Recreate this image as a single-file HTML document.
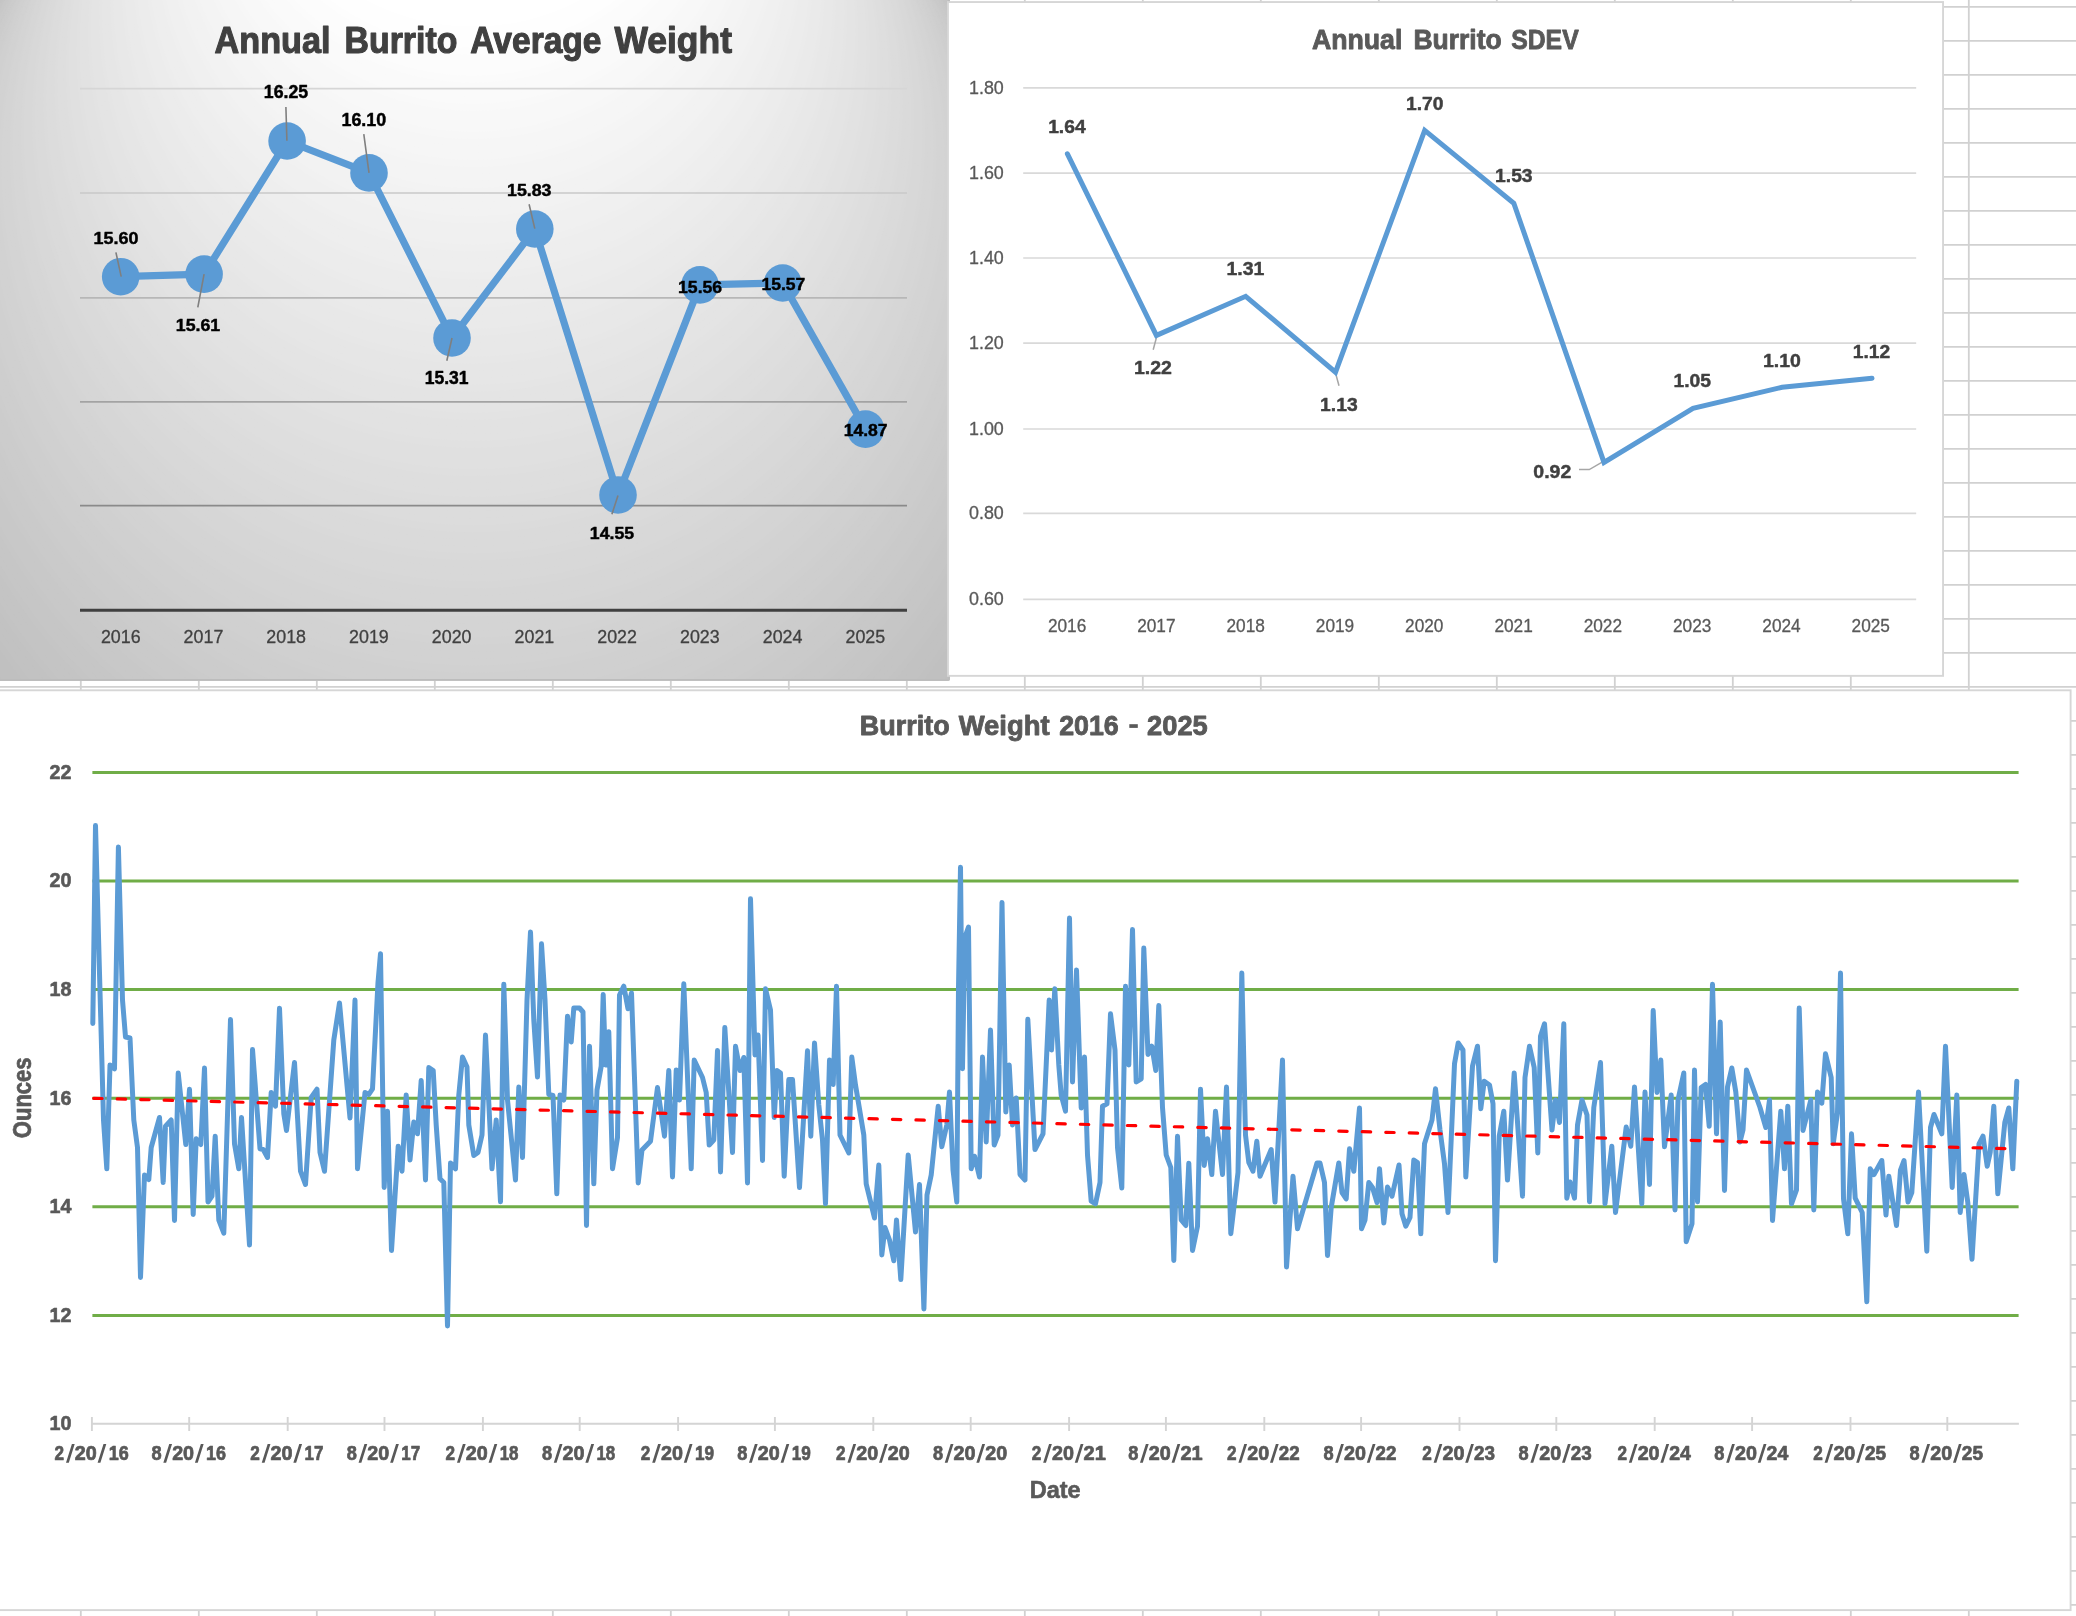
<!DOCTYPE html>
<html><head><meta charset="utf-8"><title>Burrito charts</title>
<style>html,body{margin:0;padding:0;background:#fff;overflow:hidden}svg{display:block}text{font-family:"Liberation Sans",sans-serif}</style></head>
<body>
<svg width="2076" height="1616" viewBox="0 0 2076 1616" font-family="Liberation Sans, sans-serif" style="will-change:transform">
<rect width="2076" height="1616" fill="#fff"/>
<path d="M80.8 0V1616M198.8 0V1616M316.8 0V1616M434.8 0V1616M552.8 0V1616M670.8 0V1616M788.8 0V1616M906.8 0V1616M1024.8 0V1616M1142.8 0V1616M1260.8 0V1616M1378.8 0V1616M1496.8 0V1616M1614.8 0V1616M1732.8 0V1616M1850.8 0V1616M1968.8 0V1616M2086.8 0V1616M0 6.9H2076M0 40.9H2076M0 74.9H2076M0 108.9H2076M0 142.9H2076M0 176.9H2076M0 210.9H2076M0 244.9H2076M0 278.9H2076M0 312.9H2076M0 346.9H2076M0 380.9H2076M0 414.9H2076M0 448.9H2076M0 482.9H2076M0 516.9H2076M0 550.9H2076M0 584.9H2076M0 618.9H2076M0 652.9H2076M0 686.9H2076M0 720.9H2076M0 754.9H2076M0 788.9H2076M0 822.9H2076M0 856.9H2076M0 890.9H2076M0 924.9H2076M0 958.9H2076M0 992.9H2076M0 1026.9H2076M0 1060.9H2076M0 1094.9H2076M0 1128.9H2076M0 1162.9H2076M0 1196.9H2076M0 1230.9H2076M0 1264.9H2076M0 1298.9H2076M0 1332.9H2076M0 1366.9H2076M0 1400.9H2076M0 1434.9H2076M0 1468.9H2076M0 1502.9H2076M0 1536.9H2076M0 1570.9H2076M0 1604.9H2076" stroke="#d1d1d1" stroke-width="1.8" fill="none"/>
<defs><clipPath id="c1"><rect x="-6" y="-6" width="955.8" height="686.65" rx="1.5"/></clipPath></defs>
<g clip-path="url(#c1)">
<rect x="-5" y="-5" width="960" height="690" fill="#bfbfbf"/>
<circle cx="473.1" cy="339.3" r="586.3" fill="rgb(191,191,191)"/>
<circle cx="473.1" cy="335.1" r="583.5" fill="rgb(192,192,192)"/>
<circle cx="473.1" cy="330.9" r="580.7" fill="rgb(192,192,192)"/>
<circle cx="473.1" cy="326.6" r="577.9" fill="rgb(192,192,192)"/>
<circle cx="473.1" cy="322.4" r="575.1" fill="rgb(193,193,193)"/>
<circle cx="473.1" cy="318.2" r="572.3" fill="rgb(194,194,194)"/>
<circle cx="473.1" cy="313.9" r="569.5" fill="rgb(194,194,194)"/>
<circle cx="473.1" cy="309.7" r="566.7" fill="rgb(194,194,194)"/>
<circle cx="473.1" cy="305.5" r="563.9" fill="rgb(195,195,195)"/>
<circle cx="473.1" cy="301.3" r="561.1" fill="rgb(196,196,196)"/>
<circle cx="473.1" cy="297.0" r="558.3" fill="rgb(196,196,196)"/>
<circle cx="473.1" cy="292.8" r="555.5" fill="rgb(196,196,196)"/>
<circle cx="473.1" cy="288.6" r="552.7" fill="rgb(197,197,197)"/>
<circle cx="473.1" cy="284.3" r="549.9" fill="rgb(198,198,198)"/>
<circle cx="473.1" cy="280.1" r="547.1" fill="rgb(198,198,198)"/>
<circle cx="473.1" cy="275.9" r="544.3" fill="rgb(198,198,198)"/>
<circle cx="473.1" cy="271.7" r="541.6" fill="rgb(199,199,199)"/>
<circle cx="473.1" cy="267.4" r="538.8" fill="rgb(200,200,200)"/>
<circle cx="473.1" cy="263.2" r="536.0" fill="rgb(200,200,200)"/>
<circle cx="473.1" cy="259.0" r="533.2" fill="rgb(200,200,200)"/>
<circle cx="473.1" cy="254.7" r="530.4" fill="rgb(201,201,201)"/>
<circle cx="473.1" cy="250.5" r="527.6" fill="rgb(202,202,202)"/>
<circle cx="473.1" cy="246.3" r="524.8" fill="rgb(202,202,202)"/>
<circle cx="473.1" cy="242.1" r="522.0" fill="rgb(202,202,202)"/>
<circle cx="473.1" cy="237.8" r="519.2" fill="rgb(203,203,203)"/>
<circle cx="473.1" cy="233.6" r="516.4" fill="rgb(204,204,204)"/>
<circle cx="473.1" cy="229.4" r="513.6" fill="rgb(204,204,204)"/>
<circle cx="473.1" cy="225.1" r="510.8" fill="rgb(204,204,204)"/>
<circle cx="473.1" cy="220.9" r="508.0" fill="rgb(205,205,205)"/>
<circle cx="473.1" cy="216.7" r="505.2" fill="rgb(206,206,206)"/>
<circle cx="473.1" cy="212.4" r="502.4" fill="rgb(206,206,206)"/>
<circle cx="473.1" cy="208.2" r="499.6" fill="rgb(206,206,206)"/>
<circle cx="473.1" cy="204.0" r="496.9" fill="rgb(207,207,207)"/>
<circle cx="473.1" cy="199.8" r="494.1" fill="rgb(208,208,208)"/>
<circle cx="473.1" cy="195.5" r="491.3" fill="rgb(208,208,208)"/>
<circle cx="473.1" cy="191.3" r="488.5" fill="rgb(208,208,208)"/>
<circle cx="473.1" cy="187.1" r="485.7" fill="rgb(209,209,209)"/>
<circle cx="473.1" cy="182.8" r="482.9" fill="rgb(210,210,210)"/>
<circle cx="473.1" cy="178.6" r="480.1" fill="rgb(210,210,210)"/>
<circle cx="473.1" cy="174.4" r="477.3" fill="rgb(210,210,210)"/>
<circle cx="473.1" cy="170.2" r="474.5" fill="rgb(211,211,211)"/>
<circle cx="473.1" cy="165.9" r="471.7" fill="rgb(212,212,212)"/>
<circle cx="473.1" cy="161.7" r="468.9" fill="rgb(212,212,212)"/>
<circle cx="473.1" cy="157.5" r="466.1" fill="rgb(212,212,212)"/>
<circle cx="473.1" cy="153.2" r="463.3" fill="rgb(213,213,213)"/>
<circle cx="473.1" cy="149.0" r="460.5" fill="rgb(214,214,214)"/>
<circle cx="473.1" cy="144.8" r="457.7" fill="rgb(214,214,214)"/>
<circle cx="473.1" cy="140.6" r="454.9" fill="rgb(214,214,214)"/>
<circle cx="473.1" cy="136.3" r="452.2" fill="rgb(215,215,215)"/>
<circle cx="473.1" cy="132.1" r="449.4" fill="rgb(216,216,216)"/>
<circle cx="473.1" cy="127.9" r="446.6" fill="rgb(216,216,216)"/>
<circle cx="473.1" cy="123.6" r="443.8" fill="rgb(216,216,216)"/>
<circle cx="473.1" cy="119.4" r="441.0" fill="rgb(217,217,217)"/>
<circle cx="473.1" cy="115.2" r="438.2" fill="rgb(218,218,218)"/>
<circle cx="473.1" cy="110.9" r="435.4" fill="rgb(218,218,218)"/>
<circle cx="473.1" cy="106.7" r="432.6" fill="rgb(218,218,218)"/>
<circle cx="473.1" cy="102.5" r="429.8" fill="rgb(219,219,219)"/>
<circle cx="473.1" cy="98.3" r="427.0" fill="rgb(220,220,220)"/>
<circle cx="473.1" cy="94.0" r="424.2" fill="rgb(220,220,220)"/>
<circle cx="473.1" cy="89.8" r="421.4" fill="rgb(220,220,220)"/>
<circle cx="473.1" cy="85.6" r="418.6" fill="rgb(221,221,221)"/>
<circle cx="473.1" cy="81.3" r="415.8" fill="rgb(222,222,222)"/>
<circle cx="473.1" cy="77.1" r="413.0" fill="rgb(222,222,222)"/>
<circle cx="473.1" cy="72.9" r="410.2" fill="rgb(222,222,222)"/>
<circle cx="473.1" cy="68.7" r="407.4" fill="rgb(223,223,223)"/>
<circle cx="473.1" cy="64.4" r="404.7" fill="rgb(224,224,224)"/>
<circle cx="473.1" cy="60.2" r="401.9" fill="rgb(224,224,224)"/>
<circle cx="473.1" cy="56.0" r="399.1" fill="rgb(224,224,224)"/>
<circle cx="473.1" cy="51.7" r="396.3" fill="rgb(225,225,225)"/>
<circle cx="473.1" cy="47.5" r="393.5" fill="rgb(226,226,226)"/>
<circle cx="473.1" cy="43.3" r="390.7" fill="rgb(226,226,226)"/>
<circle cx="473.1" cy="39.0" r="387.9" fill="rgb(226,226,226)"/>
<circle cx="473.1" cy="34.8" r="385.1" fill="rgb(227,227,227)"/>
<circle cx="473.1" cy="30.6" r="382.3" fill="rgb(228,228,228)"/>
<circle cx="473.1" cy="26.4" r="379.5" fill="rgb(228,228,228)"/>
<circle cx="473.1" cy="22.1" r="376.7" fill="rgb(228,228,228)"/>
<circle cx="473.1" cy="17.9" r="373.9" fill="rgb(229,229,229)"/>
<circle cx="473.1" cy="13.7" r="371.1" fill="rgb(230,230,230)"/>
<circle cx="473.1" cy="9.4" r="368.3" fill="rgb(230,230,230)"/>
<circle cx="473.1" cy="5.2" r="365.5" fill="rgb(230,230,230)"/>
<circle cx="473.1" cy="1.0" r="362.7" fill="rgb(231,231,231)"/>
<circle cx="473.1" cy="-3.2" r="360.0" fill="rgb(232,232,232)"/>
<circle cx="473.1" cy="-7.5" r="357.2" fill="rgb(232,232,232)"/>
<circle cx="473.1" cy="-11.7" r="354.4" fill="rgb(232,232,232)"/>
<circle cx="473.1" cy="-15.9" r="351.6" fill="rgb(233,233,233)"/>
<circle cx="473.1" cy="-20.2" r="348.8" fill="rgb(234,234,234)"/>
<circle cx="473.1" cy="-24.4" r="346.0" fill="rgb(234,234,234)"/>
<circle cx="473.1" cy="-28.6" r="343.2" fill="rgb(234,234,234)"/>
<circle cx="473.1" cy="-32.8" r="340.4" fill="rgb(235,235,235)"/>
<circle cx="473.1" cy="-37.1" r="337.6" fill="rgb(236,236,236)"/>
<circle cx="473.1" cy="-41.3" r="334.8" fill="rgb(236,236,236)"/>
<circle cx="473.1" cy="-45.5" r="332.0" fill="rgb(236,236,236)"/>
<circle cx="473.1" cy="-49.8" r="329.2" fill="rgb(237,237,237)"/>
<circle cx="473.1" cy="-54.0" r="326.4" fill="rgb(238,238,238)"/>
<circle cx="473.1" cy="-58.2" r="323.6" fill="rgb(238,238,238)"/>
<circle cx="473.1" cy="-62.5" r="320.8" fill="rgb(238,238,238)"/>
<circle cx="473.1" cy="-66.7" r="318.0" fill="rgb(239,239,239)"/>
<circle cx="473.1" cy="-70.9" r="315.3" fill="rgb(240,240,240)"/>
<circle cx="473.1" cy="-75.1" r="312.5" fill="rgb(240,240,240)"/>
<circle cx="473.1" cy="-79.4" r="309.7" fill="rgb(240,240,240)"/>
<circle cx="473.1" cy="-83.6" r="306.9" fill="rgb(241,241,241)"/>
<circle cx="473.1" cy="-87.8" r="304.1" fill="rgb(242,242,242)"/>
<circle cx="473.1" cy="-92.1" r="301.3" fill="rgb(242,242,242)"/>
<circle cx="473.1" cy="-96.3" r="298.5" fill="rgb(242,242,242)"/>
<circle cx="473.1" cy="-100.5" r="295.7" fill="rgb(243,243,243)"/>
<circle cx="473.1" cy="-104.7" r="292.9" fill="rgb(244,244,244)"/>
<circle cx="473.1" cy="-109.0" r="290.1" fill="rgb(244,244,244)"/>
<circle cx="473.1" cy="-113.2" r="287.3" fill="rgb(244,244,244)"/>
<circle cx="473.1" cy="-117.4" r="284.5" fill="rgb(245,245,245)"/>
<circle cx="473.1" cy="-121.7" r="281.7" fill="rgb(246,246,246)"/>
<circle cx="473.1" cy="-125.9" r="278.9" fill="rgb(246,246,246)"/>
<circle cx="473.1" cy="-130.1" r="276.1" fill="rgb(246,246,246)"/>
<circle cx="473.1" cy="-134.3" r="273.3" fill="rgb(247,247,247)"/>
<circle cx="473.1" cy="-138.6" r="270.5" fill="rgb(248,248,248)"/>
<circle cx="473.1" cy="-142.8" r="267.8" fill="rgb(248,248,248)"/>
<circle cx="473.1" cy="-147.0" r="265.0" fill="rgb(248,248,248)"/>
<circle cx="473.1" cy="-151.3" r="262.2" fill="rgb(249,249,249)"/>
<circle cx="473.1" cy="-155.5" r="259.4" fill="rgb(250,250,250)"/>
<circle cx="473.1" cy="-159.7" r="256.6" fill="rgb(250,250,250)"/>
<circle cx="473.1" cy="-164.0" r="253.8" fill="rgb(250,250,250)"/>
<circle cx="473.1" cy="-168.2" r="251.0" fill="rgb(251,251,251)"/>
<circle cx="473.1" cy="-172.4" r="248.2" fill="rgb(252,252,252)"/>
<circle cx="473.1" cy="-176.6" r="245.4" fill="rgb(252,252,252)"/>
<circle cx="473.1" cy="-180.9" r="242.6" fill="rgb(252,252,252)"/>
<circle cx="473.1" cy="-185.1" r="239.8" fill="rgb(253,253,253)"/>
<circle cx="473.1" cy="-189.3" r="237.0" fill="rgb(254,254,254)"/>
<circle cx="473.1" cy="-193.6" r="234.2" fill="rgb(254,254,254)"/>
<circle cx="473.1" cy="-197.8" r="231.4" fill="rgb(254,254,254)"/>
<circle cx="473.1" cy="-202.0" r="228.6" fill="rgb(255,255,255)"/>
</g>
<rect x="-6" y="-6" width="955" height="685.9" rx="1.5" fill="none" stroke="#bcbcbc" stroke-width="1.6"/>
<path d="M80 88.7H907" stroke="#d6d6d6" stroke-width="1.7"/>
<path d="M80 193.0H907" stroke="#c9c9c9" stroke-width="1.7"/>
<path d="M80 297.8H907" stroke="#b7b7b7" stroke-width="1.7"/>
<path d="M80 401.8H907" stroke="#a3a3a3" stroke-width="1.7"/>
<path d="M80 505.7H907" stroke="#8a8a8a" stroke-width="1.7"/>
<path d="M80 610.2H907" stroke="#404040" stroke-width="3"/>
<polyline points="120.7,276.7 204.1,274.1 287.1,141.0 369.0,172.9 452.0,338.0 534.8,229.0 618.0,495.0 700.0,284.9 782.7,283.0 865.5,429.1" fill="none" stroke="#5b9bd5" stroke-width="7.2" stroke-linejoin="round" stroke-linecap="round"/>
<circle cx="120.7" cy="276.7" r="18.8" fill="#5b9bd5"/>
<circle cx="204.1" cy="274.1" r="18.8" fill="#5b9bd5"/>
<circle cx="287.1" cy="141.0" r="18.8" fill="#5b9bd5"/>
<circle cx="369.0" cy="172.9" r="18.8" fill="#5b9bd5"/>
<circle cx="452.0" cy="338.0" r="18.8" fill="#5b9bd5"/>
<circle cx="534.8" cy="229.0" r="18.8" fill="#5b9bd5"/>
<circle cx="618.0" cy="495.0" r="18.8" fill="#5b9bd5"/>
<circle cx="700.0" cy="284.9" r="18.8" fill="#5b9bd5"/>
<circle cx="782.7" cy="283.0" r="18.8" fill="#5b9bd5"/>
<circle cx="865.5" cy="429.1" r="18.8" fill="#5b9bd5"/>
<path d="M115.9 252.3L121.2 276.6M204.1 274.1L197.8 307.4M285.9 106.9L286.9 140.7M363.8 134.1L369 172.9M529.1 204.2L534.8 228.6M452 338L446.8 360.7M618 495.4L611.9 514.2" stroke="#7f7f7f" stroke-width="1.6" fill="none"/>
<text transform="translate(214.51,52.87) scale(0.9364,1)" font-size="36.57" font-weight="bold" fill="#404040" stroke="#404040" stroke-width="1.1" stroke-linejoin="round">Annual</text>
<text transform="translate(344.61,52.87) scale(0.9255,1)" font-size="36.57" font-weight="bold" fill="#404040" stroke="#404040" stroke-width="1.1" stroke-linejoin="round">Burrito</text>
<text transform="translate(470.30,52.87) scale(0.9183,1)" font-size="36.57" font-weight="bold" fill="#404040" stroke="#404040" stroke-width="1.1" stroke-linejoin="round">Average</text>
<text transform="translate(614.52,52.87) scale(0.9690,1)" font-size="36.57" font-weight="bold" fill="#404040" stroke="#404040" stroke-width="1.1" stroke-linejoin="round">Weight</text>
<text transform="translate(93.44,243.67) scale(1.0430,1)" font-size="17.25" font-weight="bold" fill="#000" stroke="#000" stroke-width="0.45" stroke-linejoin="round">15.60</text>
<text transform="translate(175.84,330.67) scale(1.0465,1)" font-size="16.96" font-weight="bold" fill="#000" stroke="#000" stroke-width="0.45" stroke-linejoin="round">15.61</text>
<text transform="translate(263.84,97.56) scale(1.0124,1)" font-size="17.53" font-weight="bold" fill="#000" stroke="#000" stroke-width="0.45" stroke-linejoin="round">16.25</text>
<text transform="translate(341.44,125.66) scale(1.0215,1)" font-size="17.53" font-weight="bold" fill="#000" stroke="#000" stroke-width="0.45" stroke-linejoin="round">16.10</text>
<text transform="translate(507.04,195.87) scale(1.0292,1)" font-size="17.25" font-weight="bold" fill="#000" stroke="#000" stroke-width="0.45" stroke-linejoin="round">15.83</text>
<text transform="translate(424.74,383.76) scale(1.0011,1)" font-size="17.53" font-weight="bold" fill="#000" stroke="#000" stroke-width="0.45" stroke-linejoin="round">15.31</text>
<text transform="translate(589.84,538.66) scale(1.0246,1)" font-size="17.25" font-weight="bold" fill="#000" stroke="#000" stroke-width="0.45" stroke-linejoin="round">14.55</text>
<text transform="translate(678.04,292.76) scale(1.0139,1)" font-size="17.39" font-weight="bold" fill="#000" stroke="#000" stroke-width="0.45" stroke-linejoin="round">15.56</text>
<text transform="translate(761.44,289.76) scale(1.0177,1)" font-size="17.25" font-weight="bold" fill="#000" stroke="#000" stroke-width="0.45" stroke-linejoin="round">15.57</text>
<text transform="translate(843.64,435.87) scale(1.0093,1)" font-size="17.39" font-weight="bold" fill="#000" stroke="#000" stroke-width="0.45" stroke-linejoin="round">14.87</text>
<text transform="translate(100.89,642.81) scale(0.9714,1)" font-size="18.38" font-weight="normal" fill="#404040" stroke="#404040" stroke-width="0.3" stroke-linejoin="round">2016</text>
<text transform="translate(183.62,642.81) scale(0.9714,1)" font-size="18.38" font-weight="normal" fill="#404040" stroke="#404040" stroke-width="0.3" stroke-linejoin="round">2017</text>
<text transform="translate(266.35,642.81) scale(0.9714,1)" font-size="18.38" font-weight="normal" fill="#404040" stroke="#404040" stroke-width="0.3" stroke-linejoin="round">2018</text>
<text transform="translate(349.08,642.81) scale(0.9714,1)" font-size="18.38" font-weight="normal" fill="#404040" stroke="#404040" stroke-width="0.3" stroke-linejoin="round">2019</text>
<text transform="translate(431.81,642.81) scale(0.9714,1)" font-size="18.38" font-weight="normal" fill="#404040" stroke="#404040" stroke-width="0.3" stroke-linejoin="round">2020</text>
<text transform="translate(514.54,642.81) scale(0.9714,1)" font-size="18.38" font-weight="normal" fill="#404040" stroke="#404040" stroke-width="0.3" stroke-linejoin="round">2021</text>
<text transform="translate(597.27,642.81) scale(0.9714,1)" font-size="18.38" font-weight="normal" fill="#404040" stroke="#404040" stroke-width="0.3" stroke-linejoin="round">2022</text>
<text transform="translate(680.00,642.81) scale(0.9714,1)" font-size="18.38" font-weight="normal" fill="#404040" stroke="#404040" stroke-width="0.3" stroke-linejoin="round">2023</text>
<text transform="translate(762.73,642.81) scale(0.9714,1)" font-size="18.38" font-weight="normal" fill="#404040" stroke="#404040" stroke-width="0.3" stroke-linejoin="round">2024</text>
<text transform="translate(845.46,642.81) scale(0.9714,1)" font-size="18.38" font-weight="normal" fill="#404040" stroke="#404040" stroke-width="0.3" stroke-linejoin="round">2025</text>
<rect x="947.95" y="2.05" width="995.1" height="673.8" fill="#fff" stroke="#d6d6d6" stroke-width="1.9"/>
<path d="M1023.2 87.8H1916.2M1023.2 173.1H1916.2M1023.2 258.0H1916.2M1023.2 343.1H1916.2M1023.2 429.0H1916.2M1023.2 513.4H1916.2M1023.2 599.3H1916.2" stroke="#d9d9d9" stroke-width="1.7" fill="none"/>
<path d="M1156.8 336.3L1153.2 349.7M1335.5 373L1339 385.8M1579 469.6H1589.3L1603 461.6" stroke="#a6a6a6" stroke-width="1.5" fill="none"/>
<polyline points="1067.4,153.8 1156.4,335.4 1245.7,296.3 1335.5,372.2 1424.7,130.3 1513.8,203.3 1604.0,462.4 1693.0,408.3 1782.1,387.3 1872.0,378.2" fill="none" stroke="#5b9bd5" stroke-width="5.0" stroke-linejoin="miter" stroke-linecap="round"/>
<text transform="translate(1311.95,48.53) scale(0.9382,1)" font-size="28.45" font-weight="bold" fill="#595959" stroke="#595959" stroke-width="0.9" stroke-linejoin="round">Annual</text>
<text transform="translate(1413.45,48.53) scale(0.9312,1)" font-size="28.45" font-weight="bold" fill="#595959" stroke="#595959" stroke-width="0.9" stroke-linejoin="round">Burrito</text>
<text transform="translate(1511.24,48.53) scale(0.8705,1)" font-size="28.45" font-weight="bold" fill="#595959" stroke="#595959" stroke-width="0.9" stroke-linejoin="round">SDEV</text>
<text transform="translate(968.99,93.51) scale(0.9729,1)" font-size="18.38" font-weight="normal" fill="#595959" stroke="#595959" stroke-width="0.3" stroke-linejoin="round">1.80</text>
<text transform="translate(968.99,178.81) scale(0.9729,1)" font-size="18.38" font-weight="normal" fill="#595959" stroke="#595959" stroke-width="0.3" stroke-linejoin="round">1.60</text>
<text transform="translate(968.99,263.71) scale(0.9729,1)" font-size="18.38" font-weight="normal" fill="#595959" stroke="#595959" stroke-width="0.3" stroke-linejoin="round">1.40</text>
<text transform="translate(968.99,348.81) scale(0.9729,1)" font-size="18.38" font-weight="normal" fill="#595959" stroke="#595959" stroke-width="0.3" stroke-linejoin="round">1.20</text>
<text transform="translate(968.99,434.71) scale(0.9729,1)" font-size="18.38" font-weight="normal" fill="#595959" stroke="#595959" stroke-width="0.3" stroke-linejoin="round">1.00</text>
<text transform="translate(968.99,519.11) scale(0.9729,1)" font-size="18.38" font-weight="normal" fill="#595959" stroke="#595959" stroke-width="0.3" stroke-linejoin="round">0.80</text>
<text transform="translate(968.99,605.01) scale(0.9729,1)" font-size="18.38" font-weight="normal" fill="#595959" stroke="#595959" stroke-width="0.3" stroke-linejoin="round">0.60</text>
<text transform="translate(1047.88,632.11) scale(0.9325,1)" font-size="18.52" font-weight="normal" fill="#595959" stroke="#595959" stroke-width="0.3" stroke-linejoin="round">2016</text>
<text transform="translate(1137.18,632.11) scale(0.9325,1)" font-size="18.52" font-weight="normal" fill="#595959" stroke="#595959" stroke-width="0.3" stroke-linejoin="round">2017</text>
<text transform="translate(1226.48,632.11) scale(0.9325,1)" font-size="18.52" font-weight="normal" fill="#595959" stroke="#595959" stroke-width="0.3" stroke-linejoin="round">2018</text>
<text transform="translate(1315.78,632.11) scale(0.9325,1)" font-size="18.52" font-weight="normal" fill="#595959" stroke="#595959" stroke-width="0.3" stroke-linejoin="round">2019</text>
<text transform="translate(1405.08,632.11) scale(0.9325,1)" font-size="18.52" font-weight="normal" fill="#595959" stroke="#595959" stroke-width="0.3" stroke-linejoin="round">2020</text>
<text transform="translate(1494.38,632.11) scale(0.9325,1)" font-size="18.52" font-weight="normal" fill="#595959" stroke="#595959" stroke-width="0.3" stroke-linejoin="round">2021</text>
<text transform="translate(1583.68,632.11) scale(0.9325,1)" font-size="18.52" font-weight="normal" fill="#595959" stroke="#595959" stroke-width="0.3" stroke-linejoin="round">2022</text>
<text transform="translate(1672.98,632.11) scale(0.9325,1)" font-size="18.52" font-weight="normal" fill="#595959" stroke="#595959" stroke-width="0.3" stroke-linejoin="round">2023</text>
<text transform="translate(1762.28,632.11) scale(0.9325,1)" font-size="18.52" font-weight="normal" fill="#595959" stroke="#595959" stroke-width="0.3" stroke-linejoin="round">2024</text>
<text transform="translate(1851.58,632.11) scale(0.9325,1)" font-size="18.52" font-weight="normal" fill="#595959" stroke="#595959" stroke-width="0.3" stroke-linejoin="round">2025</text>
<text transform="translate(1048.14,132.67) scale(1.0500,1)" font-size="18.39" font-weight="bold" fill="#404040" stroke="#404040" stroke-width="0.45" stroke-linejoin="round">1.64</text>
<text transform="translate(1133.94,374.26) scale(1.0529,1)" font-size="18.54" font-weight="bold" fill="#404040" stroke="#404040" stroke-width="0.45" stroke-linejoin="round">1.22</text>
<text transform="translate(1226.44,275.37) scale(1.0529,1)" font-size="18.54" font-weight="bold" fill="#404040" stroke="#404040" stroke-width="0.45" stroke-linejoin="round">1.31</text>
<text transform="translate(1320.04,410.76) scale(1.0340,1)" font-size="18.68" font-weight="bold" fill="#404040" stroke="#404040" stroke-width="0.45" stroke-linejoin="round">1.13</text>
<text transform="translate(1405.94,109.96) scale(1.0313,1)" font-size="18.68" font-weight="bold" fill="#404040" stroke="#404040" stroke-width="0.45" stroke-linejoin="round">1.70</text>
<text transform="translate(1495.04,181.77) scale(1.0262,1)" font-size="18.82" font-weight="bold" fill="#404040" stroke="#404040" stroke-width="0.45" stroke-linejoin="round">1.53</text>
<text transform="translate(1533.34,477.76) scale(1.0422,1)" font-size="18.68" font-weight="bold" fill="#404040" stroke="#404040" stroke-width="0.45" stroke-linejoin="round">0.92</text>
<text transform="translate(1673.44,386.56) scale(1.0313,1)" font-size="18.68" font-weight="bold" fill="#404040" stroke="#404040" stroke-width="0.45" stroke-linejoin="round">1.05</text>
<text transform="translate(1763.04,366.67) scale(1.0422,1)" font-size="18.68" font-weight="bold" fill="#404040" stroke="#404040" stroke-width="0.45" stroke-linejoin="round">1.10</text>
<text transform="translate(1852.74,357.87) scale(1.0235,1)" font-size="18.82" font-weight="bold" fill="#404040" stroke="#404040" stroke-width="0.45" stroke-linejoin="round">1.12</text>
<rect x="-3" y="690.3" width="2073.6" height="919.8" fill="#fff" stroke="#d6d6d6" stroke-width="1.9"/>
<path d="M92.4 772.5H2018.6M92.4 881.0H2018.6M92.4 989.6H2018.6M92.4 1098.2H2018.6M92.4 1206.8H2018.6M92.4 1315.4H2018.6" stroke="#70ad47" stroke-width="3" fill="none"/>
<path d="M91 1423.8H2018.9M91.9 1417V1431M189.2 1417V1431M287.7 1417V1431M384.5 1417V1431M482.9 1417V1431M579.7 1417V1431M678.1 1417V1431M774.9 1417V1431M873.3 1417V1431M970.7 1417V1431M1069.1 1417V1431M1165.9 1417V1431M1264.3 1417V1431M1361.1 1417V1431M1459.5 1417V1431M1556.3 1417V1431M1654.7 1417V1431M1752.1 1417V1431M1850.5 1417V1431M1947.3 1417V1431" stroke="#d4d4d4" stroke-width="1.9" fill="none"/>
<text transform="translate(54.58,1459.69) scale(0.8564,1)" font-size="20.04" font-weight="bold" fill="#595959" stroke="#595959" stroke-width="0.7" stroke-linejoin="round">2</text>
<text transform="translate(74.81,1459.69) scale(0.9857,1)" font-size="20.04" font-weight="bold" fill="#595959" stroke="#595959" stroke-width="0.7" stroke-linejoin="round">20</text>
<text transform="translate(108.69,1459.69) scale(0.8977,1)" font-size="20.04" font-weight="bold" fill="#595959" stroke="#595959" stroke-width="0.7" stroke-linejoin="round">16</text>
<path d="M66.00 1462.80h2.8L74.70 1443.90h-2.8zM97.60 1462.80h2.8L106.30 1443.90h-2.8z" fill="#595959"/>
<text transform="translate(151.53,1459.69) scale(0.9083,1)" font-size="20.04" font-weight="bold" fill="#595959" stroke="#595959" stroke-width="0.7" stroke-linejoin="round">8</text>
<text transform="translate(172.15,1459.69) scale(0.9857,1)" font-size="20.04" font-weight="bold" fill="#595959" stroke="#595959" stroke-width="0.7" stroke-linejoin="round">20</text>
<text transform="translate(206.03,1459.69) scale(0.8977,1)" font-size="20.04" font-weight="bold" fill="#595959" stroke="#595959" stroke-width="0.7" stroke-linejoin="round">16</text>
<path d="M163.34 1462.80h2.8L172.04 1443.90h-2.8zM194.94 1462.80h2.8L203.64 1443.90h-2.8z" fill="#595959"/>
<text transform="translate(250.33,1459.69) scale(0.8564,1)" font-size="20.04" font-weight="bold" fill="#595959" stroke="#595959" stroke-width="0.7" stroke-linejoin="round">2</text>
<text transform="translate(270.56,1459.69) scale(0.9857,1)" font-size="20.04" font-weight="bold" fill="#595959" stroke="#595959" stroke-width="0.7" stroke-linejoin="round">20</text>
<text transform="translate(304.43,1459.69) scale(0.8493,1)" font-size="20.04" font-weight="bold" fill="#595959" stroke="#595959" stroke-width="0.7" stroke-linejoin="round">17</text>
<path d="M261.76 1462.80h2.8L270.46 1443.90h-2.8zM293.36 1462.80h2.8L302.06 1443.90h-2.8z" fill="#595959"/>
<text transform="translate(346.75,1459.69) scale(0.9083,1)" font-size="20.04" font-weight="bold" fill="#595959" stroke="#595959" stroke-width="0.7" stroke-linejoin="round">8</text>
<text transform="translate(367.37,1459.69) scale(0.9857,1)" font-size="20.04" font-weight="bold" fill="#595959" stroke="#595959" stroke-width="0.7" stroke-linejoin="round">20</text>
<text transform="translate(401.24,1459.69) scale(0.8493,1)" font-size="20.04" font-weight="bold" fill="#595959" stroke="#595959" stroke-width="0.7" stroke-linejoin="round">17</text>
<path d="M358.56 1462.80h2.8L367.26 1443.90h-2.8zM390.16 1462.80h2.8L398.86 1443.90h-2.8z" fill="#595959"/>
<text transform="translate(445.56,1459.69) scale(0.8564,1)" font-size="20.04" font-weight="bold" fill="#595959" stroke="#595959" stroke-width="0.7" stroke-linejoin="round">2</text>
<text transform="translate(465.78,1459.69) scale(0.9857,1)" font-size="20.04" font-weight="bold" fill="#595959" stroke="#595959" stroke-width="0.7" stroke-linejoin="round">20</text>
<text transform="translate(499.65,1459.69) scale(0.8449,1)" font-size="20.04" font-weight="bold" fill="#595959" stroke="#595959" stroke-width="0.7" stroke-linejoin="round">18</text>
<path d="M456.98 1462.80h2.8L465.68 1443.90h-2.8zM488.58 1462.80h2.8L497.28 1443.90h-2.8z" fill="#595959"/>
<text transform="translate(541.97,1459.69) scale(0.9083,1)" font-size="20.04" font-weight="bold" fill="#595959" stroke="#595959" stroke-width="0.7" stroke-linejoin="round">8</text>
<text transform="translate(562.59,1459.69) scale(0.9857,1)" font-size="20.04" font-weight="bold" fill="#595959" stroke="#595959" stroke-width="0.7" stroke-linejoin="round">20</text>
<text transform="translate(596.46,1459.69) scale(0.8449,1)" font-size="20.04" font-weight="bold" fill="#595959" stroke="#595959" stroke-width="0.7" stroke-linejoin="round">18</text>
<path d="M553.78 1462.80h2.8L562.48 1443.90h-2.8zM585.38 1462.80h2.8L594.08 1443.90h-2.8z" fill="#595959"/>
<text transform="translate(640.78,1459.69) scale(0.8564,1)" font-size="20.04" font-weight="bold" fill="#595959" stroke="#595959" stroke-width="0.7" stroke-linejoin="round">2</text>
<text transform="translate(661.00,1459.69) scale(0.9857,1)" font-size="20.04" font-weight="bold" fill="#595959" stroke="#595959" stroke-width="0.7" stroke-linejoin="round">20</text>
<text transform="translate(694.88,1459.69) scale(0.8581,1)" font-size="20.04" font-weight="bold" fill="#595959" stroke="#595959" stroke-width="0.7" stroke-linejoin="round">19</text>
<path d="M652.20 1462.80h2.8L660.90 1443.90h-2.8zM683.80 1462.80h2.8L692.50 1443.90h-2.8z" fill="#595959"/>
<text transform="translate(737.19,1459.69) scale(0.9083,1)" font-size="20.04" font-weight="bold" fill="#595959" stroke="#595959" stroke-width="0.7" stroke-linejoin="round">8</text>
<text transform="translate(757.81,1459.69) scale(0.9857,1)" font-size="20.04" font-weight="bold" fill="#595959" stroke="#595959" stroke-width="0.7" stroke-linejoin="round">20</text>
<text transform="translate(791.68,1459.69) scale(0.8581,1)" font-size="20.04" font-weight="bold" fill="#595959" stroke="#595959" stroke-width="0.7" stroke-linejoin="round">19</text>
<path d="M749.00 1462.80h2.8L757.70 1443.90h-2.8zM780.60 1462.80h2.8L789.30 1443.90h-2.8z" fill="#595959"/>
<text transform="translate(836.00,1459.69) scale(0.8564,1)" font-size="20.04" font-weight="bold" fill="#595959" stroke="#595959" stroke-width="0.7" stroke-linejoin="round">2</text>
<text transform="translate(856.22,1459.69) scale(0.9857,1)" font-size="20.04" font-weight="bold" fill="#595959" stroke="#595959" stroke-width="0.7" stroke-linejoin="round">20</text>
<text transform="translate(887.82,1459.69) scale(0.9857,1)" font-size="20.04" font-weight="bold" fill="#595959" stroke="#595959" stroke-width="0.7" stroke-linejoin="round">20</text>
<path d="M847.42 1462.80h2.8L856.12 1443.90h-2.8zM879.02 1462.80h2.8L887.72 1443.90h-2.8z" fill="#595959"/>
<text transform="translate(932.95,1459.69) scale(0.9083,1)" font-size="20.04" font-weight="bold" fill="#595959" stroke="#595959" stroke-width="0.7" stroke-linejoin="round">8</text>
<text transform="translate(953.57,1459.69) scale(0.9857,1)" font-size="20.04" font-weight="bold" fill="#595959" stroke="#595959" stroke-width="0.7" stroke-linejoin="round">20</text>
<text transform="translate(985.17,1459.69) scale(0.9857,1)" font-size="20.04" font-weight="bold" fill="#595959" stroke="#595959" stroke-width="0.7" stroke-linejoin="round">20</text>
<path d="M944.76 1462.80h2.8L953.46 1443.90h-2.8zM976.36 1462.80h2.8L985.06 1443.90h-2.8z" fill="#595959"/>
<text transform="translate(1031.75,1459.69) scale(0.8564,1)" font-size="20.04" font-weight="bold" fill="#595959" stroke="#595959" stroke-width="0.7" stroke-linejoin="round">2</text>
<text transform="translate(1051.98,1459.69) scale(0.9857,1)" font-size="20.04" font-weight="bold" fill="#595959" stroke="#595959" stroke-width="0.7" stroke-linejoin="round">20</text>
<text transform="translate(1083.58,1459.69) scale(0.9989,1)" font-size="20.04" font-weight="bold" fill="#595959" stroke="#595959" stroke-width="0.7" stroke-linejoin="round">21</text>
<path d="M1043.17 1462.80h2.8L1051.87 1443.90h-2.8zM1074.77 1462.80h2.8L1083.47 1443.90h-2.8z" fill="#595959"/>
<text transform="translate(1128.17,1459.69) scale(0.9083,1)" font-size="20.04" font-weight="bold" fill="#595959" stroke="#595959" stroke-width="0.7" stroke-linejoin="round">8</text>
<text transform="translate(1148.79,1459.69) scale(0.9857,1)" font-size="20.04" font-weight="bold" fill="#595959" stroke="#595959" stroke-width="0.7" stroke-linejoin="round">20</text>
<text transform="translate(1180.39,1459.69) scale(0.9989,1)" font-size="20.04" font-weight="bold" fill="#595959" stroke="#595959" stroke-width="0.7" stroke-linejoin="round">21</text>
<path d="M1139.98 1462.80h2.8L1148.68 1443.90h-2.8zM1171.58 1462.80h2.8L1180.28 1443.90h-2.8z" fill="#595959"/>
<text transform="translate(1226.97,1459.69) scale(0.8564,1)" font-size="20.04" font-weight="bold" fill="#595959" stroke="#595959" stroke-width="0.7" stroke-linejoin="round">2</text>
<text transform="translate(1247.20,1459.69) scale(0.9857,1)" font-size="20.04" font-weight="bold" fill="#595959" stroke="#595959" stroke-width="0.7" stroke-linejoin="round">20</text>
<text transform="translate(1278.79,1459.69) scale(0.9373,1)" font-size="20.04" font-weight="bold" fill="#595959" stroke="#595959" stroke-width="0.7" stroke-linejoin="round">22</text>
<path d="M1238.39 1462.80h2.8L1247.09 1443.90h-2.8zM1269.99 1462.80h2.8L1278.69 1443.90h-2.8z" fill="#595959"/>
<text transform="translate(1323.39,1459.69) scale(0.9083,1)" font-size="20.04" font-weight="bold" fill="#595959" stroke="#595959" stroke-width="0.7" stroke-linejoin="round">8</text>
<text transform="translate(1344.01,1459.69) scale(0.9857,1)" font-size="20.04" font-weight="bold" fill="#595959" stroke="#595959" stroke-width="0.7" stroke-linejoin="round">20</text>
<text transform="translate(1375.60,1459.69) scale(0.9373,1)" font-size="20.04" font-weight="bold" fill="#595959" stroke="#595959" stroke-width="0.7" stroke-linejoin="round">22</text>
<path d="M1335.20 1462.80h2.8L1343.90 1443.90h-2.8zM1366.80 1462.80h2.8L1375.50 1443.90h-2.8z" fill="#595959"/>
<text transform="translate(1422.19,1459.69) scale(0.8564,1)" font-size="20.04" font-weight="bold" fill="#595959" stroke="#595959" stroke-width="0.7" stroke-linejoin="round">2</text>
<text transform="translate(1442.42,1459.69) scale(0.9857,1)" font-size="20.04" font-weight="bold" fill="#595959" stroke="#595959" stroke-width="0.7" stroke-linejoin="round">20</text>
<text transform="translate(1474.01,1459.69) scale(0.9417,1)" font-size="20.04" font-weight="bold" fill="#595959" stroke="#595959" stroke-width="0.7" stroke-linejoin="round">23</text>
<path d="M1433.61 1462.80h2.8L1442.31 1443.90h-2.8zM1465.21 1462.80h2.8L1473.91 1443.90h-2.8z" fill="#595959"/>
<text transform="translate(1518.61,1459.69) scale(0.9083,1)" font-size="20.04" font-weight="bold" fill="#595959" stroke="#595959" stroke-width="0.7" stroke-linejoin="round">8</text>
<text transform="translate(1539.23,1459.69) scale(0.9857,1)" font-size="20.04" font-weight="bold" fill="#595959" stroke="#595959" stroke-width="0.7" stroke-linejoin="round">20</text>
<text transform="translate(1570.82,1459.69) scale(0.9417,1)" font-size="20.04" font-weight="bold" fill="#595959" stroke="#595959" stroke-width="0.7" stroke-linejoin="round">23</text>
<path d="M1530.42 1462.80h2.8L1539.12 1443.90h-2.8zM1562.02 1462.80h2.8L1570.72 1443.90h-2.8z" fill="#595959"/>
<text transform="translate(1617.41,1459.69) scale(0.8564,1)" font-size="20.04" font-weight="bold" fill="#595959" stroke="#595959" stroke-width="0.7" stroke-linejoin="round">2</text>
<text transform="translate(1637.64,1459.69) scale(0.9857,1)" font-size="20.04" font-weight="bold" fill="#595959" stroke="#595959" stroke-width="0.7" stroke-linejoin="round">20</text>
<text transform="translate(1669.24,1459.69) scale(0.9725,1)" font-size="20.04" font-weight="bold" fill="#595959" stroke="#595959" stroke-width="0.7" stroke-linejoin="round">24</text>
<path d="M1628.83 1462.80h2.8L1637.53 1443.90h-2.8zM1660.43 1462.80h2.8L1669.13 1443.90h-2.8z" fill="#595959"/>
<text transform="translate(1714.37,1459.69) scale(0.9083,1)" font-size="20.04" font-weight="bold" fill="#595959" stroke="#595959" stroke-width="0.7" stroke-linejoin="round">8</text>
<text transform="translate(1734.98,1459.69) scale(0.9857,1)" font-size="20.04" font-weight="bold" fill="#595959" stroke="#595959" stroke-width="0.7" stroke-linejoin="round">20</text>
<text transform="translate(1766.58,1459.69) scale(0.9725,1)" font-size="20.04" font-weight="bold" fill="#595959" stroke="#595959" stroke-width="0.7" stroke-linejoin="round">24</text>
<path d="M1726.17 1462.80h2.8L1734.87 1443.90h-2.8zM1757.77 1462.80h2.8L1766.47 1443.90h-2.8z" fill="#595959"/>
<text transform="translate(1813.17,1459.69) scale(0.8564,1)" font-size="20.04" font-weight="bold" fill="#595959" stroke="#595959" stroke-width="0.7" stroke-linejoin="round">2</text>
<text transform="translate(1833.39,1459.69) scale(0.9857,1)" font-size="20.04" font-weight="bold" fill="#595959" stroke="#595959" stroke-width="0.7" stroke-linejoin="round">20</text>
<text transform="translate(1864.99,1459.69) scale(0.9505,1)" font-size="20.04" font-weight="bold" fill="#595959" stroke="#595959" stroke-width="0.7" stroke-linejoin="round">25</text>
<path d="M1824.59 1462.80h2.8L1833.29 1443.90h-2.8zM1856.19 1462.80h2.8L1864.89 1443.90h-2.8z" fill="#595959"/>
<text transform="translate(1909.59,1459.69) scale(0.9083,1)" font-size="20.04" font-weight="bold" fill="#595959" stroke="#595959" stroke-width="0.7" stroke-linejoin="round">8</text>
<text transform="translate(1930.20,1459.69) scale(0.9857,1)" font-size="20.04" font-weight="bold" fill="#595959" stroke="#595959" stroke-width="0.7" stroke-linejoin="round">20</text>
<text transform="translate(1961.79,1459.69) scale(0.9505,1)" font-size="20.04" font-weight="bold" fill="#595959" stroke="#595959" stroke-width="0.7" stroke-linejoin="round">25</text>
<path d="M1921.39 1462.80h2.8L1930.09 1443.90h-2.8zM1952.99 1462.80h2.8L1961.69 1443.90h-2.8z" fill="#595959"/>
<text transform="translate(49.48,778.82) scale(0.9730,1)" font-size="20.27" font-weight="bold" fill="#595959" stroke="#595959" stroke-width="0.6" stroke-linejoin="round">22</text>
<text transform="translate(49.48,887.32) scale(0.9730,1)" font-size="20.27" font-weight="bold" fill="#595959" stroke="#595959" stroke-width="0.6" stroke-linejoin="round">20</text>
<text transform="translate(49.48,995.92) scale(0.9730,1)" font-size="20.27" font-weight="bold" fill="#595959" stroke="#595959" stroke-width="0.6" stroke-linejoin="round">18</text>
<text transform="translate(49.48,1104.52) scale(0.9730,1)" font-size="20.27" font-weight="bold" fill="#595959" stroke="#595959" stroke-width="0.6" stroke-linejoin="round">16</text>
<text transform="translate(49.48,1213.12) scale(0.9730,1)" font-size="20.27" font-weight="bold" fill="#595959" stroke="#595959" stroke-width="0.6" stroke-linejoin="round">14</text>
<text transform="translate(49.48,1321.72) scale(0.9730,1)" font-size="20.27" font-weight="bold" fill="#595959" stroke="#595959" stroke-width="0.6" stroke-linejoin="round">12</text>
<text transform="translate(49.48,1430.22) scale(0.9730,1)" font-size="20.27" font-weight="bold" fill="#595959" stroke="#595959" stroke-width="0.6" stroke-linejoin="round">10</text>
<text transform="translate(859.86,735.13) scale(0.9470,1)" font-size="28.45" font-weight="bold" fill="#595959" stroke="#595959" stroke-width="0.9" stroke-linejoin="round">Burrito</text>
<text transform="translate(958.66,735.13) scale(0.9657,1)" font-size="28.45" font-weight="bold" fill="#595959" stroke="#595959" stroke-width="0.9" stroke-linejoin="round">Weight</text>
<text transform="translate(1059.15,735.13) scale(0.9413,1)" font-size="28.45" font-weight="bold" fill="#595959" stroke="#595959" stroke-width="0.9" stroke-linejoin="round">2016</text>
<text transform="translate(1147.06,735.13) scale(0.9585,1)" font-size="28.45" font-weight="bold" fill="#595959" stroke="#595959" stroke-width="0.9" stroke-linejoin="round">2025</text>
<rect x="1129.3" y="724.2" width="8.5" height="3.7" fill="#595959"/>
<text transform="translate(1029.78,1498.02) scale(0.9829,1)" font-size="23.91" font-weight="bold" fill="#595959" stroke="#595959" stroke-width="0.6" stroke-linejoin="round">Date</text>
<text transform="translate(30.65,1138.20) rotate(-90) scale(0.8703,1)" font-size="25.31" font-weight="bold" fill="#595959" stroke="#595959" stroke-width="0.7" stroke-linejoin="round">Ounces</text>
<polyline points="92.8,1023.5 95.5,825.5 103.5,1120.0 106.8,1168.8 110.0,1065.0 114.5,1068.8 118.4,847.1 122.5,1000.0 125.5,1037.0 130.0,1038.0 133.8,1120.0 137.5,1147.5 140.5,1277.5 144.5,1175.0 148.8,1179.5 151.2,1147.5 159.5,1117.5 163.2,1182.5 165.5,1126.2 171.2,1120.0 174.5,1220.5 178.2,1073.0 185.8,1144.5 189.5,1089.2 193.2,1214.5 196.2,1138.8 200.8,1144.5 204.5,1068.0 208.0,1202.0 212.0,1196.2 215.2,1136.2 218.8,1220.0 223.8,1233.2 230.5,1019.5 234.5,1143.8 238.8,1168.8 241.5,1117.5 249.5,1245.0 252.5,1049.5 260.0,1148.8 263.2,1149.5 267.5,1157.5 271.2,1092.5 275.5,1106.2 279.5,1008.2 283.8,1113.8 286.5,1130.5 294.5,1062.5 300.5,1171.2 305.5,1184.5 311.2,1097.5 317.0,1089.2 320.0,1152.5 324.5,1171.2 333.8,1040.0 339.5,1003.0 350.0,1118.0 355.0,1000.0 357.5,1168.8 365.0,1092.5 368.8,1094.5 372.5,1088.8 378.0,982.5 380.5,953.8 384.2,1187.5 387.5,1111.2 391.5,1250.5 398.2,1146.2 402.0,1171.2 406.2,1095.0 410.0,1160.0 413.8,1122.0 417.5,1133.8 421.2,1080.5 425.5,1180.0 428.8,1067.5 433.2,1070.5 436.2,1125.0 440.0,1178.8 443.8,1182.5 447.5,1326.0 450.5,1163.0 455.5,1168.8 458.8,1095.0 462.5,1057.0 467.0,1067.0 468.8,1125.0 473.8,1155.5 478.0,1152.5 482.0,1135.0 485.5,1035.0 492.0,1168.8 496.2,1120.0 500.5,1201.8 503.8,984.2 507.5,1100.0 515.5,1180.0 518.8,1087.0 522.5,1157.5 527.0,1000.0 530.5,932.0 533.8,1020.0 537.5,1077.0 541.5,943.8 545.0,1000.0 548.8,1094.5 553.0,1095.5 556.8,1193.8 560.0,1095.0 563.8,1100.0 567.5,1016.2 571.2,1042.0 573.8,1008.0 579.5,1008.0 583.0,1012.0 586.5,1225.5 589.5,1046.2 593.8,1183.8 597.0,1090.0 601.2,1066.2 603.2,994.5 605.5,1065.0 608.8,1031.8 612.5,1168.8 617.5,1137.5 619.5,995.0 623.8,986.2 628.0,1008.8 631.5,993.0 638.2,1183.0 642.0,1150.0 650.5,1141.2 657.5,1087.5 664.5,1136.2 668.8,1070.5 672.5,1177.0 676.2,1070.0 679.5,1100.0 683.8,983.8 691.2,1168.8 694.2,1060.0 702.5,1077.5 706.2,1092.5 709.2,1145.0 713.8,1140.0 717.5,1050.5 720.5,1172.0 724.8,1027.5 732.5,1152.5 735.5,1046.2 740.0,1070.5 743.8,1057.5 747.5,1183.0 750.5,898.8 755.0,1055.0 758.0,1035.0 762.5,1160.5 765.5,988.8 770.5,1010.0 774.2,1117.5 777.0,1070.5 780.5,1073.0 784.2,1176.2 788.8,1079.5 792.5,1079.5 799.5,1187.5 807.5,1050.8 810.8,1136.2 814.5,1043.0 818.8,1105.0 822.5,1140.0 825.5,1203.8 829.5,1060.0 833.2,1084.5 836.5,986.2 840.0,1135.0 848.8,1153.0 851.8,1057.0 855.5,1085.0 863.8,1135.0 866.2,1183.8 874.5,1218.0 878.8,1165.0 881.8,1255.0 885.0,1227.5 889.5,1240.0 893.8,1260.8 896.5,1220.0 900.8,1279.5 908.2,1155.0 915.5,1232.0 919.5,1184.5 923.9,1309.0 927.0,1195.0 931.2,1175.0 938.2,1106.2 941.8,1146.8 946.8,1125.0 949.5,1092.0 953.0,1170.0 956.8,1202.0 958.5,987.5 960.5,867.2 962.5,1068.8 964.8,937.5 968.5,927.0 971.2,1168.8 974.5,1156.2 979.5,1177.0 982.5,1057.0 986.2,1142.0 990.5,1030.0 994.2,1145.0 998.0,1135.0 1002.0,902.5 1005.8,1112.0 1009.2,1065.0 1012.5,1125.0 1016.2,1098.0 1020.0,1174.5 1025.0,1180.0 1027.8,1019.2 1035.0,1149.5 1043.0,1133.8 1049.2,1000.0 1051.5,1050.0 1054.8,988.8 1058.8,1065.0 1061.2,1095.0 1065.5,1111.2 1069.5,918.0 1072.5,1082.0 1076.5,970.0 1081.2,1108.0 1084.5,1057.0 1087.5,1155.0 1091.2,1201.2 1095.5,1203.8 1100.0,1182.5 1102.5,1106.2 1107.0,1103.8 1110.5,1013.8 1115.0,1050.0 1117.5,1147.5 1121.8,1188.0 1125.5,986.2 1128.8,1065.0 1132.5,929.5 1136.2,1082.0 1141.2,1078.8 1143.8,948.0 1148.0,1054.5 1151.8,1046.2 1155.8,1070.5 1158.8,1005.5 1162.5,1107.5 1166.2,1155.0 1170.8,1167.5 1173.8,1260.5 1177.5,1136.2 1181.2,1220.0 1185.8,1225.5 1188.8,1163.2 1192.5,1250.5 1197.5,1226.2 1200.5,1089.2 1204.2,1165.5 1207.5,1138.8 1211.8,1174.5 1215.5,1111.2 1222.5,1174.5 1226.5,1087.0 1230.8,1233.8 1238.0,1172.5 1241.8,973.0 1245.5,1135.0 1248.8,1162.5 1253.0,1171.2 1256.8,1141.2 1260.0,1176.2 1271.2,1149.5 1275.0,1202.0 1282.5,1060.0 1286.5,1267.0 1293.0,1176.2 1297.5,1228.8 1317.0,1163.0 1320.0,1163.0 1324.5,1182.5 1327.5,1255.5 1331.2,1207.5 1338.8,1163.0 1342.0,1192.5 1346.2,1198.8 1349.5,1148.8 1353.8,1171.2 1359.5,1108.0 1361.5,1228.8 1365.0,1220.0 1368.8,1182.5 1372.5,1187.5 1377.0,1202.5 1379.5,1168.8 1383.8,1223.0 1387.5,1187.0 1392.0,1196.2 1399.0,1165.0 1402.0,1213.8 1405.8,1226.2 1410.0,1217.5 1413.8,1160.0 1417.5,1162.5 1420.8,1233.8 1424.5,1143.8 1432.0,1120.0 1435.5,1088.8 1440.0,1130.0 1444.5,1163.8 1448.0,1212.5 1454.5,1063.8 1458.2,1043.0 1463.0,1050.0 1465.8,1177.0 1472.5,1066.2 1477.5,1046.2 1480.8,1108.8 1484.2,1081.2 1489.5,1085.0 1493.0,1103.8 1495.5,1260.8 1499.2,1136.2 1503.8,1111.2 1507.5,1180.0 1514.2,1073.0 1522.5,1196.2 1525.0,1077.5 1529.5,1046.2 1534.2,1067.5 1537.8,1153.0 1540.5,1036.2 1544.5,1023.8 1552.0,1130.0 1555.5,1100.0 1559.5,1122.5 1563.8,1023.8 1566.8,1198.2 1570.0,1182.0 1574.5,1198.2 1577.5,1125.0 1582.0,1100.0 1587.0,1115.0 1589.5,1201.8 1593.8,1107.5 1600.5,1062.5 1605.0,1203.8 1611.8,1146.2 1615.5,1212.5 1626.2,1127.0 1630.8,1146.2 1634.5,1087.0 1641.8,1203.8 1645.0,1092.0 1649.5,1184.5 1653.2,1010.5 1657.0,1092.5 1660.8,1060.0 1664.5,1146.8 1671.2,1095.0 1675.0,1210.0 1678.0,1100.0 1683.8,1073.0 1686.2,1241.8 1692.0,1223.8 1694.5,1070.0 1697.5,1201.8 1701.2,1087.5 1705.5,1084.5 1709.2,1126.2 1712.5,984.2 1716.5,1133.8 1720.2,1022.0 1724.5,1190.5 1727.5,1087.0 1731.8,1068.0 1735.8,1092.0 1740.0,1142.0 1743.0,1130.0 1746.5,1070.0 1760.0,1107.5 1765.8,1127.5 1769.5,1100.0 1772.5,1220.5 1780.8,1111.2 1784.5,1168.8 1787.8,1106.2 1791.5,1203.8 1796.5,1190.0 1799.2,1008.0 1803.0,1130.5 1810.8,1100.0 1813.8,1210.0 1817.5,1092.0 1821.8,1103.2 1825.5,1053.8 1831.2,1077.5 1833.2,1143.8 1837.5,1112.5 1840.5,973.0 1843.5,1198.8 1847.8,1233.8 1851.5,1133.8 1855.2,1198.2 1862.2,1212.5 1866.8,1301.8 1870.2,1168.8 1874.0,1174.5 1881.8,1160.5 1886.0,1215.0 1888.8,1176.2 1896.5,1225.5 1900.5,1170.0 1904.0,1160.5 1908.0,1202.0 1911.8,1192.5 1918.5,1092.0 1926.8,1251.2 1930.5,1127.5 1934.0,1114.5 1941.8,1133.8 1945.5,1046.2 1952.2,1187.5 1956.8,1095.0 1960.2,1212.5 1964.0,1174.5 1967.8,1202.5 1972.0,1259.2 1979.0,1143.8 1983.0,1136.2 1987.2,1166.2 1990.2,1152.5 1993.8,1106.2 1997.8,1193.8 2004.8,1122.5 2008.8,1108.0 2012.8,1168.8 2016.8,1081.2" fill="none" stroke="#5b9bd5" stroke-width="5.0" stroke-linejoin="round" stroke-linecap="round"/>
<path d="M93.7 1098.3L2017 1148.9" stroke="#ff0000" stroke-width="3.2" stroke-dasharray="8.4 15.1" stroke-linecap="round" fill="none"/>
</svg>
</body></html>
